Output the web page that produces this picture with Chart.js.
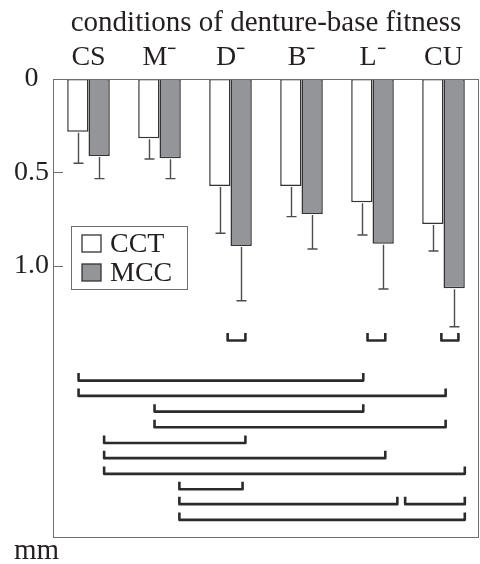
<!DOCTYPE html>
<html><head><meta charset="utf-8">
<script src="https://cdn.jsdelivr.net/npm/chart.js@4"></script>
<style>html,body{margin:0;padding:0;background:#fff}#wrap{position:relative;width:480px;height:564px}</style>
</head><body><div id="wrap"><canvas id="c" width="480" height="564"></canvas></div>
<script>
const chartTitle = 'conditions of denture-base fitness';
const categories = ['CS', 'M\u207B', 'D\u207B', 'B\u207B', 'L\u207B', 'CU'];
const seriesNames = ['CCT', 'MCC'];
const cctMeans = [0.282, 0.317, 0.572, 0.572, 0.659, 0.775];
const cctSD    = [0.169, 0.111, 0.253, 0.164, 0.175, 0.145];
const mccMeans = [0.412, 0.424, 0.893, 0.722, 0.881, 1.119];
const mccSD    = [0.121, 0.109, 0.293, 0.187, 0.242, 0.206];
const yTickValues = [0, 0.5, 1.0];
const yTickLabels = ['0', '0.5', '1.0'];
const unitLabel = 'mm';
// significance brackets: [from (category units), to (category units), level (mm)]
const brackets = [
  [1.96, 2.21, 1.399], [3.93, 4.18, 1.399], [4.97, 5.21, 1.399],
  [-0.14, 3.87, 1.613], [-0.14, 5.03, 1.695],
  [0.93, 3.87, 1.779], [0.93, 5.03, 1.863],
  [0.22, 2.21, 1.947], [0.22, 4.18, 2.028], [0.22, 5.30, 2.112],
  [1.28, 2.17, 2.194], [1.28, 4.35, 2.274], [4.46, 5.30, 2.274],
  [1.28, 5.30, 2.358]
];
const bracketTick = 0.04;

const FONT = "'Liberation Serif', 'Times New Roman', serif";
const INK = '#231f20';
const GRAY = '#939598';
Chart.defaults.font.family = FONT;
Chart.defaults.color = INK;

const fills = ['#ffffff', GRAY];
const sds = [cctSD, mccSD];

const datasets = [
  { label: seriesNames[0], data: cctMeans, backgroundColor: fills[0], borderColor: '#333', borderWidth: 1.5, borderSkipped: false,
    categoryPercentage: 0.6, barPercentage: 1.0 },
  { label: seriesNames[1], data: mccMeans, backgroundColor: fills[1], borderColor: '#333', borderWidth: 1.5, borderSkipped: false,
    categoryPercentage: 0.6, barPercentage: 1.0 }
];

const decor = {
  id: 'decor',
  afterDatasetsDraw(chart) {
    const {ctx, chartArea: a, scales: {x, y}} = chart;
    ctx.save();
    // frame
    ctx.strokeStyle = '#6d6e71'; ctx.lineWidth = 1;
    ctx.strokeRect(a.left + 0.5, a.top + 0.5, a.right - a.left - 1, a.bottom - a.top - 1);
    // inward ticks
    yTickValues.forEach(v => {
      if (v === 0) return;
      const py = Math.round(y.getPixelForValue(v)) + 0.5;
      ctx.beginPath(); ctx.moveTo(a.left, py); ctx.lineTo(a.left + 10, py); ctx.stroke();
    });
    // error bars
    ctx.strokeStyle = '#4d4d4f'; ctx.lineWidth = 1.4;
    [0, 1].forEach(di => {
      const meta = chart.getDatasetMeta(di);
      meta.data.forEach((bar, i) => {
        const v = chart.data.datasets[di].data[i];
        const y0 = y.getPixelForValue(v), y1 = y.getPixelForValue(v + sds[di][i]);
        const px = Math.round(bar.x) + 0.5;
        ctx.beginPath(); ctx.moveTo(px, y0 + 1); ctx.lineTo(px, y1);
        ctx.moveTo(px - 5, y1); ctx.lineTo(px + 5, y1); ctx.stroke();
      });
    });
    // significance brackets
    ctx.strokeStyle = '#2b2b2b'; ctx.lineWidth = 2.6; ctx.lineJoin = 'round';
    brackets.forEach(([f, t, lv]) => {
      const x1 = x.getPixelForValue(f), x2 = x.getPixelForValue(t);
      const yb = y.getPixelForValue(lv), yt = y.getPixelForValue(lv - bracketTick);
      ctx.beginPath(); ctx.moveTo(x1, yt); ctx.lineTo(x1, yb); ctx.lineTo(x2, yb); ctx.lineTo(x2, yt); ctx.stroke();
    });
    // legend
    ctx.lineJoin = 'miter';
    ctx.strokeStyle = '#6d6e71'; ctx.lineWidth = 1;
    ctx.fillStyle = '#fff';
    ctx.fillRect(72, 227, 116, 62);
    ctx.strokeRect(71.5, 226.5, 116, 63);
    ctx.font = '28px ' + FONT; ctx.textBaseline = 'alphabetic'; ctx.textAlign = 'left';
    const rows = [252, 281];
    seriesNames.forEach((n, k) => {
      ctx.fillStyle = fills[k]; ctx.strokeStyle = '#333'; ctx.lineWidth = 1.3;
      ctx.fillRect(82, rows[k] - 17, 19, 17);
      ctx.strokeRect(82, rows[k] - 17, 19, 17);
      ctx.fillStyle = INK;
      ctx.fillText(n, 110, rows[k]);
    });
    // unit
    ctx.font = '29px ' + FONT;
    ctx.fillText(unitLabel, 14, 559);
    ctx.restore();
  }
};

new Chart(document.getElementById('c'), {
  type: 'bar',
  data: { labels: categories, datasets },
  options: {
    responsive: false, animation: false,
    layout: { padding: { left: 0, right: 1, top: 0, bottom: 26 } },
    plugins: { legend: { display: false }, tooltip: { enabled: false } },
    scales: {
      x: {
        type: 'category', position: 'top', offset: true,
        grid: { display: false }, border: { display: false },
        ticks: { font: { size: 28 }, padding: -3, color: INK, maxRotation: 0, autoSkip: false },
        title: { display: true, text: chartTitle, font: { size: 29 }, color: INK, padding: { top: 6, bottom: 0 } },
        afterFit(s) { s.height = 79; }
      },
      y: {
        type: 'linear', reverse: true, min: 0, max: 2.455,
        grid: { display: false }, border: { display: false },
        afterBuildTicks(s) { s.ticks = yTickValues.map(v => ({ value: v })); },
        ticks: { font: { size: 28 }, padding: -4, color: INK, crossAlign: 'center',
          callback: (v) => yTickLabels[yTickValues.indexOf(v)] },
        afterFit(s) { s.width = 53; }
      }
    }
  },
  plugins: [decor]
});
</script></body></html>
